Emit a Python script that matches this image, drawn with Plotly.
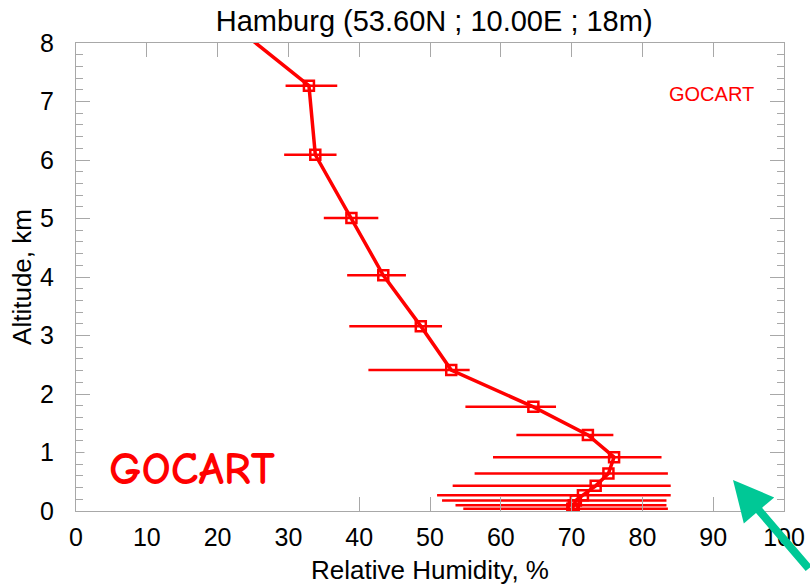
import plotly.graph_objects as go

# GOCART relative-humidity profile over Hamburg
altitude_km = [0.04, 0.10, 0.18, 0.27, 0.43, 0.64, 0.92, 1.30, 1.78, 2.41,
               3.16, 4.03, 5.01, 6.09, 7.27, 8.60]
rh_mean = [70.1, 70.3, 70.6, 71.6, 73.4, 75.2, 76.0, 72.3, 64.6, 53.0,
           48.7, 43.4, 38.9, 33.8, 32.9, 19.2]
rh_low = [54.7, 53.6, 51.7, 51.0, 53.2, 56.3, 58.9, 62.2, 55.0, 41.3,
          38.6, 38.3, 35.0, 29.4, 29.6, 15.5]
rh_high = [83.6, 83.4, 83.4, 84.0, 84.0, 83.6, 82.7, 75.9, 67.8, 55.6,
           51.7, 46.6, 42.7, 36.8, 36.9, 23.0]

x_ticks = [0, 10, 20, 30, 40, 50, 60, 70, 80, 90, 100]
y_ticks = [0, 1, 2, 3, 4, 5, 6, 7, 8]

RED = "#ff0000"
AXIS = "#a8a8a8"
TICK_FONT = dict(family="Liberation Sans, Arial, sans-serif", size=25, color="black")

err_plus = [h - m for h, m in zip(rh_high, rh_mean)]
err_minus = [m - l for m, l in zip(rh_mean, rh_low)]

fig = go.Figure()
fig.add_trace(go.Scatter(
    x=rh_mean, y=altitude_km,
    mode="lines+markers",
    line=dict(color=RED, width=3.5),
    marker=dict(symbol="square-open", size=10, color=RED, line=dict(width=2.5, color=RED)),
    error_x=dict(type="data", symmetric=False, array=err_plus, arrayminus=err_minus,
                 color=RED, thickness=2.5, width=0),
    cliponaxis=True,
    showlegend=False,
))

fig.update_layout(
    width=810, height=585, autosize=False,
    margin=dict(l=76, r=26, t=43, b=74),
    paper_bgcolor="white", plot_bgcolor="white",
    title=dict(text="Hamburg (53.60N ; 10.00E ; 18m)",
               font=dict(family="Liberation Sans, Arial, sans-serif", size=29, color="black"),
               x=0.536, xanchor="center", y=0.964, yanchor="middle"),
    xaxis=dict(range=[0, 100], tickvals=x_ticks, ticks="inside", ticklen=14,
               tickcolor=AXIS, tickwidth=1, showline=True, linecolor=AXIS, linewidth=1,
               mirror="ticks", showgrid=False, zeroline=False, tickfont=TICK_FONT,
               ticklabelstandoff=4, automargin=False,
               title=dict(text="Relative Humidity, %", standoff=17,
                          font=dict(family="Liberation Sans, Arial, sans-serif", size=26, color="black"))),
    yaxis=dict(range=[0, 8], tickvals=y_ticks, ticks="inside", ticklen=14,
               tickcolor=AXIS, tickwidth=1, showline=True, linecolor=AXIS, linewidth=1,
               mirror="ticks", showgrid=False, zeroline=False, tickfont=TICK_FONT,
               ticklabelstandoff=16, automargin=False,
               minor=dict(dtick=0.2, ticks="inside", ticklen=7, tickcolor=AXIS, showgrid=False),
               title=dict(text="Altitude, km", standoff=0,
                          font=dict(family="Liberation Sans, Arial, sans-serif", size=26, color="black"))),
)

# white panel behind the large model label (hides part of the bottom axis)
fig.add_shape(type="rect", xref="x", yref="y", x0=1.2, x1=31.3, y0=-0.08, y1=1.15,
              fillcolor="white", line=dict(width=0), layer="above")

fig.add_annotation(text="<b>GOCART</b>", xref="x", yref="y", x=16.4, y=0.71,
                   showarrow=False, xanchor="center", yanchor="middle",
                   font=dict(family="Comic Sans MS, Comic Neue, Liberation Sans, sans-serif",
                             size=46, color=RED))
fig.add_annotation(text="GOCART", xref="paper", yref="paper", x=0.897, y=0.892,
                   showarrow=False, xanchor="center", yanchor="middle",
                   font=dict(family="Liberation Sans, Arial, sans-serif", size=20, color=RED))

# green pointer into the lower-right corner
fig.add_annotation(text="", xref="x", yref="y", x=92.8, y=0.53,
                   showarrow=True, ax=100, ay=90, arrowhead=2, arrowsize=1,
                   arrowwidth=8, arrowcolor="#00c896")

fig.write_html("out.html")
